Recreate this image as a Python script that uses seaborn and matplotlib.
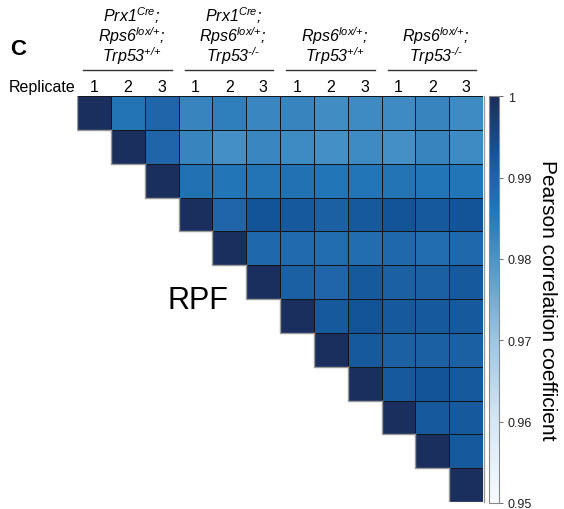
import numpy as np
import pandas as pd
import seaborn as sns
import matplotlib.pyplot as plt
import matplotlib.transforms as mtransforms
from matplotlib.colors import LinearSegmentedColormap
from matplotlib.patches import Rectangle

# upper triangle of the replicate correlation matrix, row by row (from the diagonal on)
row01 = [1.000, 0.9865, 0.990, 0.983, 0.984, 0.9825, 0.983, 0.9815, 0.982, 0.982, 0.983, 0.982]
row02 = [1.000, 0.990, 0.983, 0.981, 0.9825, 0.982, 0.981, 0.982, 0.981, 0.983, 0.982]
row03 = [1.000, 0.987, 0.986, 0.9865, 0.987, 0.986, 0.986, 0.9865, 0.986, 0.986]
row04 = [1.000, 0.990, 0.993, 0.992, 0.991, 0.992, 0.993, 0.992, 0.993]
row05 = [1.000, 0.989, 0.9885, 0.988, 0.988, 0.989, 0.988, 0.989]
row06 = [1.000, 0.991, 0.990, 0.992, 0.991, 0.991, 0.992]
row07 = [1.000, 0.992, 0.993, 0.992, 0.992, 0.992]
row08 = [1.000, 0.992, 0.991, 0.991, 0.991]
row09 = [1.000, 0.992, 0.993, 0.992]
row10 = [1.000, 0.992, 0.992]
row11 = [1.000, 0.992]
row12 = [1.000]

replicates = ["1", "2", "3"]
group_line1 = [r"Prx1$^{\text{Cre}}$;", r"Prx1$^{\text{Cre}}$;", "", ""]
group_line2 = [r"Rps6$^{\text{lox/+}}$;"] * 4
group_line3 = [r"Trp53$^{\text{+/+}}$", r"Trp53$^{\text{-/-}}$",
               r"Trp53$^{\text{+/+}}$", r"Trp53$^{\text{-/-}}$"]
cbar_ticks = [0.95, 0.96, 0.97, 0.98, 0.99, 1.0]

rows = [row01, row02, row03, row04, row05, row06, row07, row08, row09, row10, row11, row12]
n = len(rows)
mat = np.full((n, n), np.nan)
for i, r in enumerate(rows):
    mat[i, i:] = r
    mat[i:, i] = r
labels = [f"{g}_{rep}" for g in range(4) for rep in replicates]
df = pd.DataFrame(mat, index=labels, columns=labels)
mask = np.tril(np.ones((n, n), dtype=bool), k=-1)

plt.rcParams['font.family'] = ['Liberation Sans', 'DejaVu Sans']
plt.rcParams['mathtext.fontset'] = 'custom'
plt.rcParams['mathtext.it'] = 'Liberation Sans:italic'
plt.rcParams['mathtext.rm'] = 'Liberation Sans:italic'

cmap = LinearSegmentedColormap.from_list("pcc", [
    (0.0, "#f7fbff"), (0.2, "#d6e6f4"), (0.4, "#9cc6e3"), (0.6, "#4a94c8"),
    (0.66, "#3784bf"), (0.72, "#2276b7"), (0.8, "#2064a9"), (0.84, "#175b9e"),
    (0.86, "#13559a"), (1.0, "#1b2f5e")])

fig = plt.figure(figsize=(5.64, 5.10), dpi=100)
ax = fig.add_axes([0.1365, 0.0137, 0.72, 0.796])
cax = fig.add_axes([0.867, 0.012, 0.017, 0.797])

sns.heatmap(df, mask=mask, cmap=cmap, vmin=0.95, vmax=1.0, linewidths=0,
            cbar_ax=cax, xticklabels=False, yticklabels=False, ax=ax)

# thin dark borders only round the drawn (upper-triangle) cells
for i in range(n):
    for j in range(i, n):
        ax.add_patch(Rectangle((j, i), 1, 1, fill=False, ec="#151515", lw=0.7))
# grey shadow along the staircase and right side
for i in range(n):
    ax.plot([i, i, i + 1], [i, i + 1, i + 1], color="#9a9a9a", lw=1.0, zorder=1)
ax.plot([n + 0.03, n + 0.03], [0, n], color="#9a9a9a", lw=1.0, clip_on=False, zorder=1)

cb = ax.collections[0].colorbar
cb.set_ticks(cbar_ticks)
cb.set_ticklabels([f"{t:g}" for t in cbar_ticks])
cb.ax.tick_params(labelsize=9, length=3, width=0.6, colors="#555555", labelcolor="#222222")
cb.outline.set_edgecolor("#888888")
cb.outline.set_linewidth(0.8)
cb.set_label("Pearson correlation coefficient", rotation=270, fontsize=15, labelpad=18)

# header: x in data coords, y in figure coords
trans = mtransforms.blended_transform_factory(ax.transData, fig.transFigure)
for g in range(4):
    cx = 3 * g + 1.5 + 0.12
    for txt, yb in [(group_line1[g], 22), (group_line2[g], 42), (group_line3[g], 62)]:
        ax.text(cx, 1 - yb / 510, txt, transform=trans, ha="center", va="baseline",
                fontsize=11.5, fontstyle="italic")
    ax.plot([3 * g + 0.18, 3 * g + 2.8], [1 - 71 / 510] * 2, transform=trans,
            color="#333333", lw=1, clip_on=False)
    for k, rep in enumerate(replicates):
        ax.text(3 * g + k + 0.5, 1 - 92 / 510, rep, transform=trans, ha="center",
                va="baseline", fontsize=11.5)
ax.text(-0.05, 1 - 92 / 510, "Replicate", transform=trans, ha="right", va="baseline", fontsize=11.5)

fig.text(10 / 564, 1 - 55 / 510, "C", fontsize=16, fontweight="bold", va="baseline")
fig.text(167 / 564, 1 - 309 / 510, "RPF", fontsize=22, va="baseline")

fig.savefig("out.png", dpi=100)
